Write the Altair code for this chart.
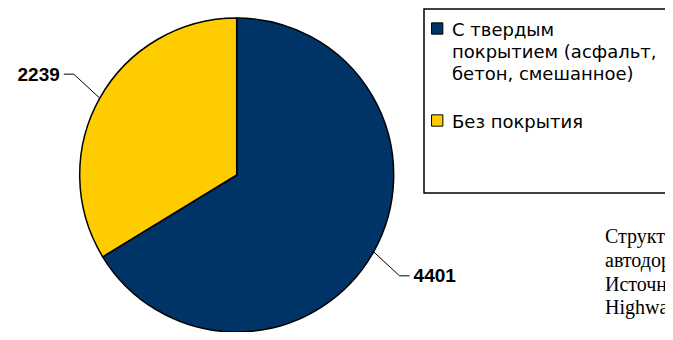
import math
import altair as alt
import pandas as pd

# ---- data ----
categories = ["С твердым покрытием (асфальт, бетон, смешанное)", "Без покрытия"]
values = [4401, 2239]
colors = ["#003366", "#FFCC00"]
legend_lines = [["С твердым", "покрытием (асфальт,", "бетон, смешанное)"], ["Без покрытия"]]
note_lines = ["Структура", "автодорог по типу покрытия, км", "Источник: World Road Statistics", "Highway Statistics"]

# ---- layout constants (chart pixel space) ----
W, H = 657, 324
CX, CY, R = 228.7, 167.0, 157

pie_df = pd.DataFrame({"category": categories, "value": values, "idx": list(range(len(values)))})

# leader lines & labels derived from slice mid-angles
total = sum(values)
start = 0.0
lead_rows, lab_rows = [], []
for i, v in enumerate(values):
    a = v / total * 2 * math.pi
    mid = start + a / 2
    start += a
    ex, ey = CX + R * math.sin(mid), CY - R * math.cos(mid)
    side = 1 if math.sin(mid) > 0 else -1
    vert = 1 if -math.cos(mid) > 0 else -1
    bx, by = ex + side * 26, ey + vert * 24
    fx, fy = bx + side * 10, by
    for k, (px, py) in enumerate([(ex, ey), (bx, by), (fx, fy)]):
        lead_rows.append({"lab": str(v), "k": k, "px": px, "py": py})
    lab_rows.append({"lab": str(v), "px": fx + side * 4, "py": by + 6.5, "side": side})
lead_df = pd.DataFrame(lead_rows)
lab_df = pd.DataFrame(lab_rows)

# legend rows
LX, LY0, LH, ITEM_GAP = 444, 28, 22, 48
sq_rows, lt_rows = [], []
y = LY0
for i, lines in enumerate(legend_lines):
    sq_rows.append({"category": categories[i], "px": 429.2, "py": y - 7.5})
    for j, t in enumerate(lines):
        lt_rows.append({"t": t, "px": LX, "py": y + j * LH})
    y += (len(lines) - 1) * LH + ITEM_GAP
sq_df = pd.DataFrame(sq_rows)
lt_df = pd.DataFrame(lt_rows)

note_df = pd.DataFrame({"t": note_lines, "px": [597] * len(note_lines),
                        "py": [235 + 23.8 * i for i in range(len(note_lines))]})

color_scale = alt.Scale(domain=categories, range=colors)
X = lambda f: alt.X(f, scale=None, axis=None)
Y = lambda f: alt.Y(f, scale=None, axis=None)

pie = alt.Chart(pie_df).mark_arc(radius=R, stroke="black", strokeWidth=1.5).encode(
    theta=alt.Theta("value:Q", stack=True),
    color=alt.Color("category:N", scale=color_scale, legend=None),
    order=alt.Order("idx:Q"),
    x=alt.value(CX), y=alt.value(CY),
)

leaders = alt.Chart(lead_df).mark_line(color="black", strokeWidth=1).encode(
    x=X("px:Q"), y=Y("py:Q"), detail="lab:N", order="k:Q"
)

lab_left = alt.Chart(lab_df).transform_filter("datum.side < 0").mark_text(
    align="right", baseline="alphabetic", font="Liberation Sans", fontSize=19, fontWeight="bold", color="black"
).encode(x=X("px:Q"), y=Y("py:Q"), text="lab:N")
lab_right = alt.Chart(lab_df).transform_filter("datum.side > 0").mark_text(
    align="left", baseline="alphabetic", font="Liberation Sans", fontSize=19, fontWeight="bold", color="black"
).encode(x=X("px:Q"), y=Y("py:Q"), text="lab:N")

box = alt.Chart(pd.DataFrame({"a": [0]})).mark_rect(fill="white", stroke="black", strokeWidth=1.5).encode(
    x=alt.value(416), x2=alt.value(720), y=alt.value(1), y2=alt.value(185)
)

squares = alt.Chart(sq_df).mark_square(size=128, stroke="black", strokeWidth=1, opacity=1).encode(
    x=X("px:Q"), y=Y("py:Q"), color=alt.Color("category:N", scale=color_scale, legend=None)
)

leg_text = alt.Chart(lt_df).mark_text(
    align="left", baseline="alphabetic", font="DejaVu Sans", fontSize=18, color="black"
).encode(x=X("px:Q"), y=Y("py:Q"), text="t:N")

note = alt.Chart(note_df).mark_text(
    align="left", baseline="alphabetic", font="Liberation Serif", fontSize=20, color="black"
).encode(x=X("px:Q"), y=Y("py:Q"), text="t:N")

chart = alt.layer(pie, leaders, lab_left, lab_right, box, squares, leg_text, note).properties(
    width=W, height=H, padding=0, autosize="none"
).configure_view(stroke=None)

chart.save("out.html", embed_options={"renderer": "svg", "actions": False})
